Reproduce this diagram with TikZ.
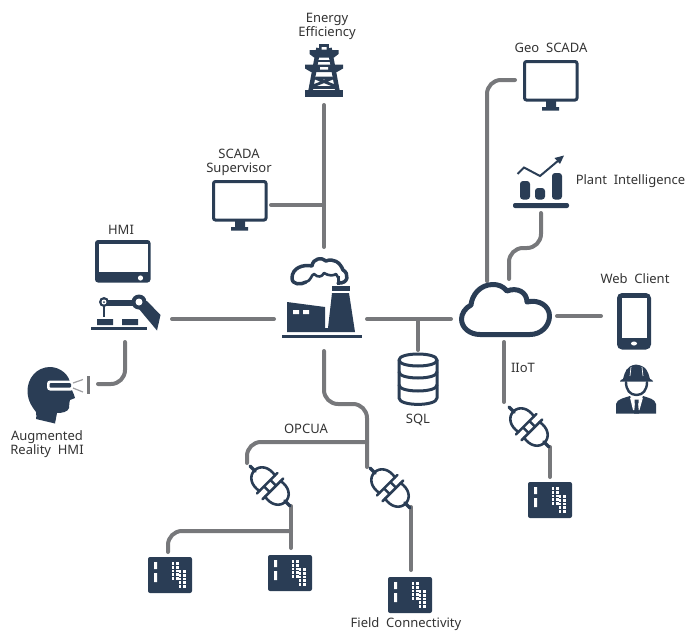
\documentclass[tikz,border=0pt]{standalone}
\usepackage{fontspec}
\setmainfont{Noto Sans}
\definecolor{navy}{HTML}{2A3D55}
\definecolor{wire}{HTML}{77787B}
\definecolor{ink}{HTML}{333333}
\tikzset{
  link/.style={draw=wire,line width=4pt,line cap=round,line join=round},
  bentlink/.style={link,rounded corners=14pt},
  lbl/.style={text=ink,font=\fontsize{13}{14}\selectfont,align=center,inner sep=0pt},
  line icon/.style={draw=navy,fill=none,line cap=round,line join=round},
  rackicon/.pic={
    \fill[navy,rounded corners=2pt] (0,0) rectangle (44,36);
    \fill[white] (6,5) rectangle (9,12) (6,16) rectangle (9,25);
    \foreach \cx in {23.5,28}{\foreach \cy in {5,8.8,12.6,16.4,20.2}{\fill[white] (\cx,\cy) rectangle ++(2.7,2.7);}}
    \foreach \cx in {30.5,35}{\foreach \cy in {13,16.8,20.6,24.4,28.2}{\fill[white] (\cx,\cy) rectangle ++(2.7,2.7);}}
  },
  plugicon/.pic={
    \begin{scope}[rotate=-45]
      \draw[navy,line width=3.5pt,line cap=round] (-28,0)--(-21,0) (21,0)--(28,0);
      \draw[line icon,line width=2.6pt] (-4,-11) .. controls (-14,-13) and (-22,-8) .. (-22,0) .. controls (-22,8) and (-14,13) .. (-4,11);
      \draw[line icon,line width=2.6pt] (4,-11) .. controls (14,-13) and (22,-8) .. (22,0) .. controls (22,8) and (14,13) .. (4,11);
      \draw[line icon,line width=2.6pt] (-4,-14.5)--(-4,14.5) (4,-14.5)--(4,14.5) (-4,-4.5)--(4,-4.5) (-4,4.5)--(4,4.5);
    \end{scope}
  },
  screenicon/.pic={
    \draw[navy,line width=3pt,fill=white,rounded corners=2pt] (1.5,1.5) rectangle (54,40);
    \fill[navy] (23,41) rectangle (33,47) (19,47) rectangle (36,50.5);
  }
}
\begin{document}
\begin{tikzpicture}[x=1pt,y=-1pt]
\useasboundingbox (0,0) rectangle (686,632);
% ---------- anchors of the icons
\coordinate (towerS) at (324,105);
\coordinate (factoryN) at (324,247);
\coordinate (scadaE) at (271,205);
\coordinate (scadaJ) at (324,205);
\coordinate (robotE) at (172,319);
\coordinate (factoryW) at (274,319);
\coordinate (factoryE) at (367,319);
\coordinate (cloudW) at (451,319);
\coordinate (sqlJ) at (418,319);
\coordinate (sqlN) at (418,350);
\coordinate (cloudS) at (504,342);
\coordinate (iiotN) at (504,402);
\coordinate (cloudE) at (557,316);
\coordinate (phoneW) at (601,316);
\coordinate (cloudNa) at (487,281);
\coordinate (geoW) at (515,80);
\coordinate (cloudNb) at (509,279);
\coordinate (chartS) at (541,213);
\coordinate (robotS) at (125,342);
\coordinate (goggleE) at (98,384);
\coordinate (factoryS) at (324,351);
\coordinate (busEnd) at (367,467);
\coordinate (opcJ) at (367,442);
\coordinate (plugAN) at (247,463);
\coordinate (plugAS) at (291,506);
\coordinate (plugBS) at (411,507);
\coordinate (plugCS) at (550,447);
\coordinate (rackAJ) at (291,531);
\coordinate (rackAN) at (291,548);
\coordinate (rackBN) at (168,552);
\coordinate (rackCN) at (411,570);
\coordinate (rackDN) at (550,477);
% ---------- connectors
\draw[link] (towerS)--(factoryN);
\draw[link] (scadaE)--(scadaJ);
\draw[link] (robotE)--(factoryW);
\draw[link] (factoryE)--(cloudW);
\draw[link] (sqlJ)--(sqlN);
\draw[link] (cloudS)--(iiotN);
\draw[link] (cloudE)--(phoneW);
\draw[bentlink] (cloudNa)|-(geoW);
\draw[bentlink] (cloudNb)--(509,248)--(541,248)--(chartS);
\draw[bentlink] (robotS)|-(goggleE);
\draw[bentlink] (factoryS)|-(367,404)--(busEnd);
\draw[bentlink] (opcJ)-|(plugAN);
\draw[link] (plugAS)--(rackAN);
\draw[bentlink] (rackAJ)-|(rackBN);
\draw[link] (plugBS)--(rackCN);
\draw[link] (plugCS)--(rackDN);
% ---------- tower
\begin{scope}
  \fill[navy] (305,90) rectangle (343,97);
  \fill[navy] (319,43.5) rectangle (329,50);
  \fill[navy] (309.5,50)--(338.5,50)--(338.5,54)--(334,57.5)--(314,57.5)--(309.5,54)--cycle;
  \fill[navy] (305,64.5)--(343,64.5)--(343,68.5)--(337,72)--(311,72)--(305,68.5)--cycle;
  \draw[navy,line width=4.5pt] (318.5,48)--(310.5,91) (329.5,48)--(337.5,91);
  \draw[navy,line width=2.8pt] (316,78)--(332.5,78) (315,78)--(335,86) (333,78)--(313,86) (313,87.5)--(335,87.5);
  \draw[navy,line width=2pt] (318,60.5)--(330,60.5);
  \fill[white] (321.5,47) rectangle (326.5,49.5) (320,67) rectangle (328,69.5);
\end{scope}
% ---------- factory
\fill[navy] (282,335) rectangle (362,338);
\fill[navy] (287,302)--(325,307)--(325,328)--(328,328)--(332,293)--(349,293)--(355,332)--(287,332)--cycle;
\fill[navy] (332,286) rectangle (350,291);
\fill[white] (293,310) rectangle (299,314) (303,310) rectangle (309,314);
\draw[line icon,line width=3.5pt] (338,283) .. controls (349,284) and (349,273) .. (343,270) .. controls (340,262) and (333,258) .. (326,261) .. controls (322,257) and (313,258) .. (312,266) .. controls (303,264) and (292,268) .. (292,278) .. controls (292,285) and (301,285) .. (306,282);
\draw[line icon,line width=2.6pt] (306,282) .. controls (311,281) and (311,275) .. (314,274) .. controls (318,278) and (322,277) .. (324,273) .. controls (329,276) and (333,276) .. (336,274) .. controls (338,276) and (339,279) .. (339,283);
\fill[navy] (337,276) rectangle (340,285);
% ---------- cloud
\draw[line icon,line width=5pt] (480,334.5)--(530,334.5) .. controls (541,334.5) and (549.5,326) .. (549.5,316) .. controls (549.5,306) and (539,299) .. (527,302) .. controls (527,292) and (517,287) .. (507,291) .. controls (503,286) and (498,284.5) .. (493,284.5) .. controls (480,284.5) and (472,295) .. (471,305) .. controls (465,308) and (461.5,314) .. (461.5,319) .. controls (461.5,328) and (470,334.5) .. (480,334.5);
% ---------- database
\begin{scope}[line icon,line width=3pt]
  \draw (399,360) .. controls (399,352) and (437,352) .. (437,360) .. controls (437,368) and (399,368) .. (399,360);
  \draw (399,360)--(399,398) .. controls (399,406.5) and (437,406.5) .. (437,398)--(437,360);
  \draw (399,372) .. controls (399,380) and (437,380) .. (437,372);
  \draw (399,385) .. controls (399,393) and (437,393) .. (437,385);
\end{scope}
% ---------- screens
\pic at (212,180) {screenicon};
\pic at (523,60) {screenicon};
% ---------- tablet
\fill[navy,rounded corners=3pt] (95,240) rectangle (150.5,282.5);
\fill[white] (98.5,243.5) rectangle (147.5,272);
\fill[white] (140.5,278) circle (2.6);
% ---------- robot
\fill[navy] (91,327) rectangle (146.5,329.5);
\fill[navy] (97,319) rectangle (113,325) (122,319) rectangle (138,325);
\fill[navy] (104,299.5) rectangle (139,306);
\fill[navy] (141,301)--(147,301)--(160.5,315)--(157,330.5)--(139,309)--cycle;
\fill[navy] (104,302) circle (5);
\fill[navy] (139,302) circle (7.5);
\fill[white] (104,302) circle (2.5) (139,302) circle (3.5);
\fill[navy] (104,302) circle (1);
\draw[navy,line width=1.2pt] (104,306)--(104,317);
% ---------- head with goggles
\fill[navy] (50,367) .. controls (37,367) and (27,378) .. (27.5,392) .. controls (28,402) and (33,408) .. (36,412) .. controls (37,415) and (36,418) .. (36,419) -- (55,423.5) -- (57,413) .. controls (62,413) and (68,412) .. (69,408) .. controls (69.5,404) and (69,402) .. (70,400) -- (75,398) .. controls (74,393) and (71,390) .. (70,384) .. controls (70,375) and (60,367) .. (50,367)--cycle;
\fill[white,rounded corners=3pt] (47,380.5) rectangle (74,390.5);
\fill[navy,rounded corners=1pt] (49.5,383) rectangle (71,387.5);
\draw[wire!70,line width=1.2pt] (73,383)--(83,379.5) (73,388)--(83,392);
\draw[wire,line width=3pt] (88,376)--(88,394);
% ---------- chart
\fill[navy,rounded corners=2pt] (513,203) rectangle (569,208);
\fill[navy,rounded corners=3pt] (520,181) rectangle (530,199.5) (535,188) rectangle (545,199.5) (552,173) rectangle (562,199.5);
\draw[navy,line width=2pt] (517.5,174)--(524,167.5)--(540,176)--(559,160);
\fill[navy] (564,155.5)--(560,164)--(554.5,158)--cycle;
% ---------- phone
\fill[navy,rounded corners=5pt] (617,293) rectangle (651,349.5);
\fill[white] (622,297.5) rectangle (647,337.5);
\fill[white] (634,343.5) ellipse (3 and 2);
% ---------- worker
\fill[navy] (623,379) .. controls (625,372) and (626,366) .. (636,364.5) .. controls (647,366) and (648,372) .. (650,379) .. controls (652,379) and (653,381) .. (653,381.5) -- (620,381.5) .. controls (620,381) and (621,379) .. (623,379)--cycle;
\draw[white,line width=.7pt] (631,367)--(630,376) (642,367)--(643,376);
\draw[line icon,line width=2.4pt] (626,382) .. controls (626,390) and (630,395) .. (636.5,395) .. controls (643,395) and (647,390) .. (647,382);
\fill[navy] (616,413.5)--(616,404) .. controls (617,399) and (624,398) .. (630,396) -- (634,404)--(639,404)--(643,396) .. controls (649,398) and (655,399) .. (656,404)--(656,413.5)--cycle;
\fill[white] (630,397.5)--(636.5,400)--(643,397.5)--(639.5,410)--(633,410)--cycle;
\fill[navy] (634.5,399.5) rectangle (638.5,403) (635,403)--(638,403)--(639,413.5)--(634,413.5)--cycle;
% ---------- plugs and racks
\pic at (270,486) {plugicon};
\pic at (390,488) {plugicon};
\pic at (529,427) {plugicon};
\pic at (148,557) {rackicon};
\pic at (268,555) {rackicon};
\pic at (388,577) {rackicon};
\pic at (528,482) {rackicon};
% ---------- labels
\node[lbl] (energy) at (327,26) {Energy\\Efficiency};
\node[lbl] (scada) at (239,162.5) {SCADA\\Supervisor};
\node[lbl] (hmi) at (121,230) {HMI};
\node[lbl] (arhmi) at (47,444) {Augmented\\Reality~~HMI};
\node[lbl] (opcua) at (306,428.5) {OPCUA};
\node[lbl] (sql) at (418,419.5) {SQL};
\node[lbl] (iiot) at (523,367.5) {IIoT};
\node[lbl] (geo) at (551,47.5) {Geo~~SCADA};
\node[lbl] (plant) at (630.5,181.5) {Plant~~Intelligence};
\node[lbl] (web) at (635,278.5) {Web~~Client};
\node[lbl] (field) at (406,624) {Field~~Connectivity};
\end{tikzpicture}
\end{document}
